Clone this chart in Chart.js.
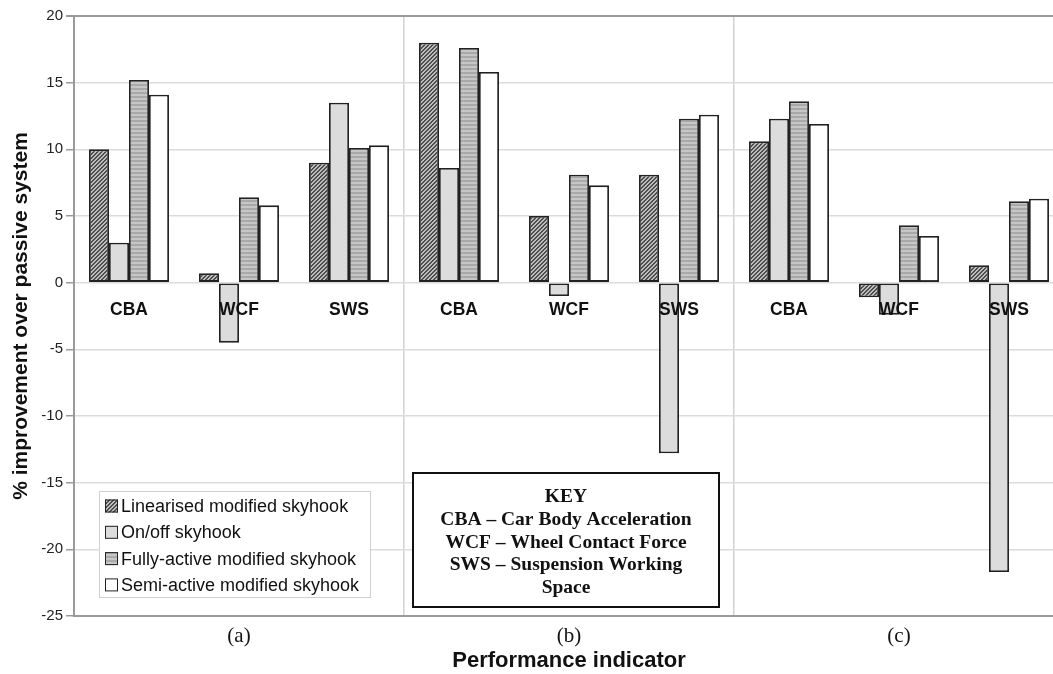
<!DOCTYPE html>
<html>
<head>
<meta charset="utf-8">
<script src="https://cdn.jsdelivr.net/npm/chart.js@4.4.1/dist/chart.umd.min.js"></script>
<style>
  html, body { margin: 0; padding: 0; background: #fff; overflow: hidden; }
  #wrap { width: 1053px; height: 674px; overflow: hidden; }
</style>
</head>
<body>
<div id="wrap"><canvas id="chart" width="1080" height="674"></canvas></div>
<script>
// indicators per road case, three cases side by side
const categories = ['CBA', 'WCF', 'SWS', 'CBA', 'WCF', 'SWS', 'CBA', 'WCF', 'SWS'];
const panelLabels = ['(a)', '(b)', '(c)'];

const seriesNames = [
  'Linearised modified skyhook',
  'On/off skyhook',
  'Fully-active modified skyhook',
  'Semi-active modified skyhook'
];

// % improvement over the passive system
const linearised  = [10.0, 0.7, 9.0, 18.0, 5.0, 8.1, 10.6, -1.1, 1.3];
const onOff       = [3.0, -4.5, 13.5, 8.6, -1.0, -12.8, 12.3, -2.4, -21.7];
const fullyActive = [15.2, 6.4, 10.1, 17.6, 8.1, 12.3, 13.6, 4.3, 6.1];
const semiActive  = [14.1, 5.8, 10.3, 15.8, 7.3, 12.6, 11.9, 3.5, 6.3];

const yMin = -25, yMax = 20, yStep = 5;

const keyLines = [
  'KEY',
  'CBA \u2013 Car Body Acceleration',
  'WCF \u2013 Wheel Contact Force',
  'SWS \u2013 Suspension Working',
  'Space'
];

const SANS = '"Liberation Sans", Arial, sans-serif';
const SERIF = '"Liberation Serif", "Times New Roman", serif';

const canvas = document.getElementById('chart');
const ctx = canvas.getContext('2d');

// fine diagonal hatch
function hatchFill() {
  const c = document.createElement('canvas');
  c.width = 4; c.height = 4;
  const g = c.getContext('2d');
  g.fillStyle = '#bdbdbd';
  g.fillRect(0, 0, 4, 4);
  g.fillStyle = '#4e4e4e';
  for (let y = 0; y < 4; y++) {
    for (let x = 0; x < 4; x++) {
      if ((x + y) % 4 < 2) g.fillRect(x, y, 1, 1);
    }
  }
  return ctx.createPattern(c, 'repeat');
}

// horizontal stripes
function stripeFill() {
  const c = document.createElement('canvas');
  c.width = 4; c.height = 4;
  const g = c.getContext('2d');
  g.fillStyle = '#c6c6c6';
  g.fillRect(0, 0, 4, 4);
  g.fillStyle = '#a9a9a9';
  g.fillRect(0, 0, 4, 2);
  return ctx.createPattern(c, 'repeat');
}

const fills = [hatchFill(), '#dcdcdc', stripeFill(), '#ffffff'];
const values = [linearised, onOff, fullyActive, semiActive];

// CBA / WCF / SWS under the zero line
const indicatorLabels = {
  id: 'indicatorLabels',
  afterDatasetsDraw(chart) {
    const { ctx, scales: { x, y } } = chart;
    const base = y.getPixelForValue(0) + 28;
    ctx.save();
    ctx.font = 'bold 17.5px ' + SANS;
    ctx.fillStyle = '#111';
    ctx.textAlign = 'center';
    ctx.textBaseline = 'middle';
    categories.forEach((c, i) => ctx.fillText(c, x.getPixelForValue(i), base));
    ctx.restore();
  }
};

// series legend and abbreviation key inside the plot
const boxes = {
  id: 'boxes',
  afterDraw(chart) {
    const { ctx, chartArea: a } = chart;
    ctx.save();

    const lx = a.left + 25, ly = a.top + 475, lw = 271, lh = 106;
    ctx.fillStyle = '#fff';
    ctx.fillRect(lx, ly, lw, lh);
    ctx.strokeStyle = '#d0d0d0';
    ctx.lineWidth = 1;
    ctx.strokeRect(lx + 0.5, ly + 0.5, lw, lh);
    ctx.font = '18px ' + SANS;
    ctx.textBaseline = 'middle';
    chart.data.datasets.forEach((ds, i) => {
      const cy = ly + 15 + i * 26.3;
      ctx.fillStyle = ds.backgroundColor;
      ctx.fillRect(lx + 6, cy - 6.5, 13, 13);
      ctx.strokeStyle = '#222';
      ctx.lineWidth = 1;
      ctx.strokeRect(lx + 6.5, cy - 6, 12, 12);
      ctx.fillStyle = '#111';
      ctx.fillText(ds.label, lx + 22, cy + 1);
    });

    const kx = 413, ky = 473, kw = 306, kh = 134;
    ctx.fillStyle = '#fff';
    ctx.fillRect(kx, ky, kw, kh);
    ctx.strokeStyle = '#111';
    ctx.lineWidth = 2;
    ctx.strokeRect(kx, ky, kw, kh);
    ctx.fillStyle = '#111';
    ctx.font = 'bold 19.5px ' + SERIF;
    ctx.textAlign = 'center';
    keyLines.forEach((t, i) => ctx.fillText(t, kx + kw / 2, ky + 24 + i * 22.8));

    ctx.restore();
  }
};

new Chart(ctx, {
  type: 'bar',
  data: {
    labels: categories,
    datasets: seriesNames.map((name, i) => ({
      label: name,
      data: values[i],
      backgroundColor: fills[i],
      borderColor: '#222',
      borderWidth: 1.8,
      borderSkipped: false,
      categoryPercentage: 0.727,
      barPercentage: 1.0
    }))
  },
  options: {
    responsive: false,
    animation: false,
    layout: { padding: { top: 16, right: 16, left: 0, bottom: 0 } },
    plugins: {
      legend: { display: false },
      tooltip: { enabled: false }
    },
    scales: {
      x: {
        afterFit: s => { s.height = 58; },
        grid: {
          offset: true,
          drawTicks: false,
          color: c => (c.index % 3 === 0 && c.index > 0) ? '#d2d2d2' : 'transparent',
          lineWidth: 1.5
        },
        border: { display: true, color: '#9a9a9a', width: 2 },
        ticks: {
          autoSkip: false,
          maxRotation: 0,
          padding: 8,
          color: '#111',
          font: { family: SERIF, size: 21 },
          callback: (v, i) => i % 3 === 1 ? panelLabels[(i - 1) / 3] : ''
        },
        title: {
          display: true,
          text: 'Performance indicator',
          color: '#111',
          font: { family: SANS, size: 22, weight: 'bold' },
          padding: { top: 0, bottom: 0 }
        }
      },
      y: {
        min: yMin,
        max: yMax,
        afterFit: s => { s.width = 74; },
        grid: {
          color: c => c.tick && c.tick.value === yMax ? '#9a9a9a' : '#dcdcdc',
          lineWidth: c => c.tick && c.tick.value === yMax ? 2 : 1.5,
          tickColor: '#9a9a9a',
          tickLength: 8
        },
        border: { display: true, color: '#9a9a9a', width: 2 },
        ticks: {
          stepSize: yStep,
          padding: 3,
          color: '#222',
          font: { family: SANS, size: 15 }
        },
        title: {
          display: true,
          text: '% improvement over passive system',
          color: '#111',
          font: { family: SANS, size: 21, weight: 'bold' },
          padding: { top: 9, bottom: 0 }
        }
      }
    }
  },
  plugins: [indicatorLabels, boxes]
});
</script>
</body>
</html>
